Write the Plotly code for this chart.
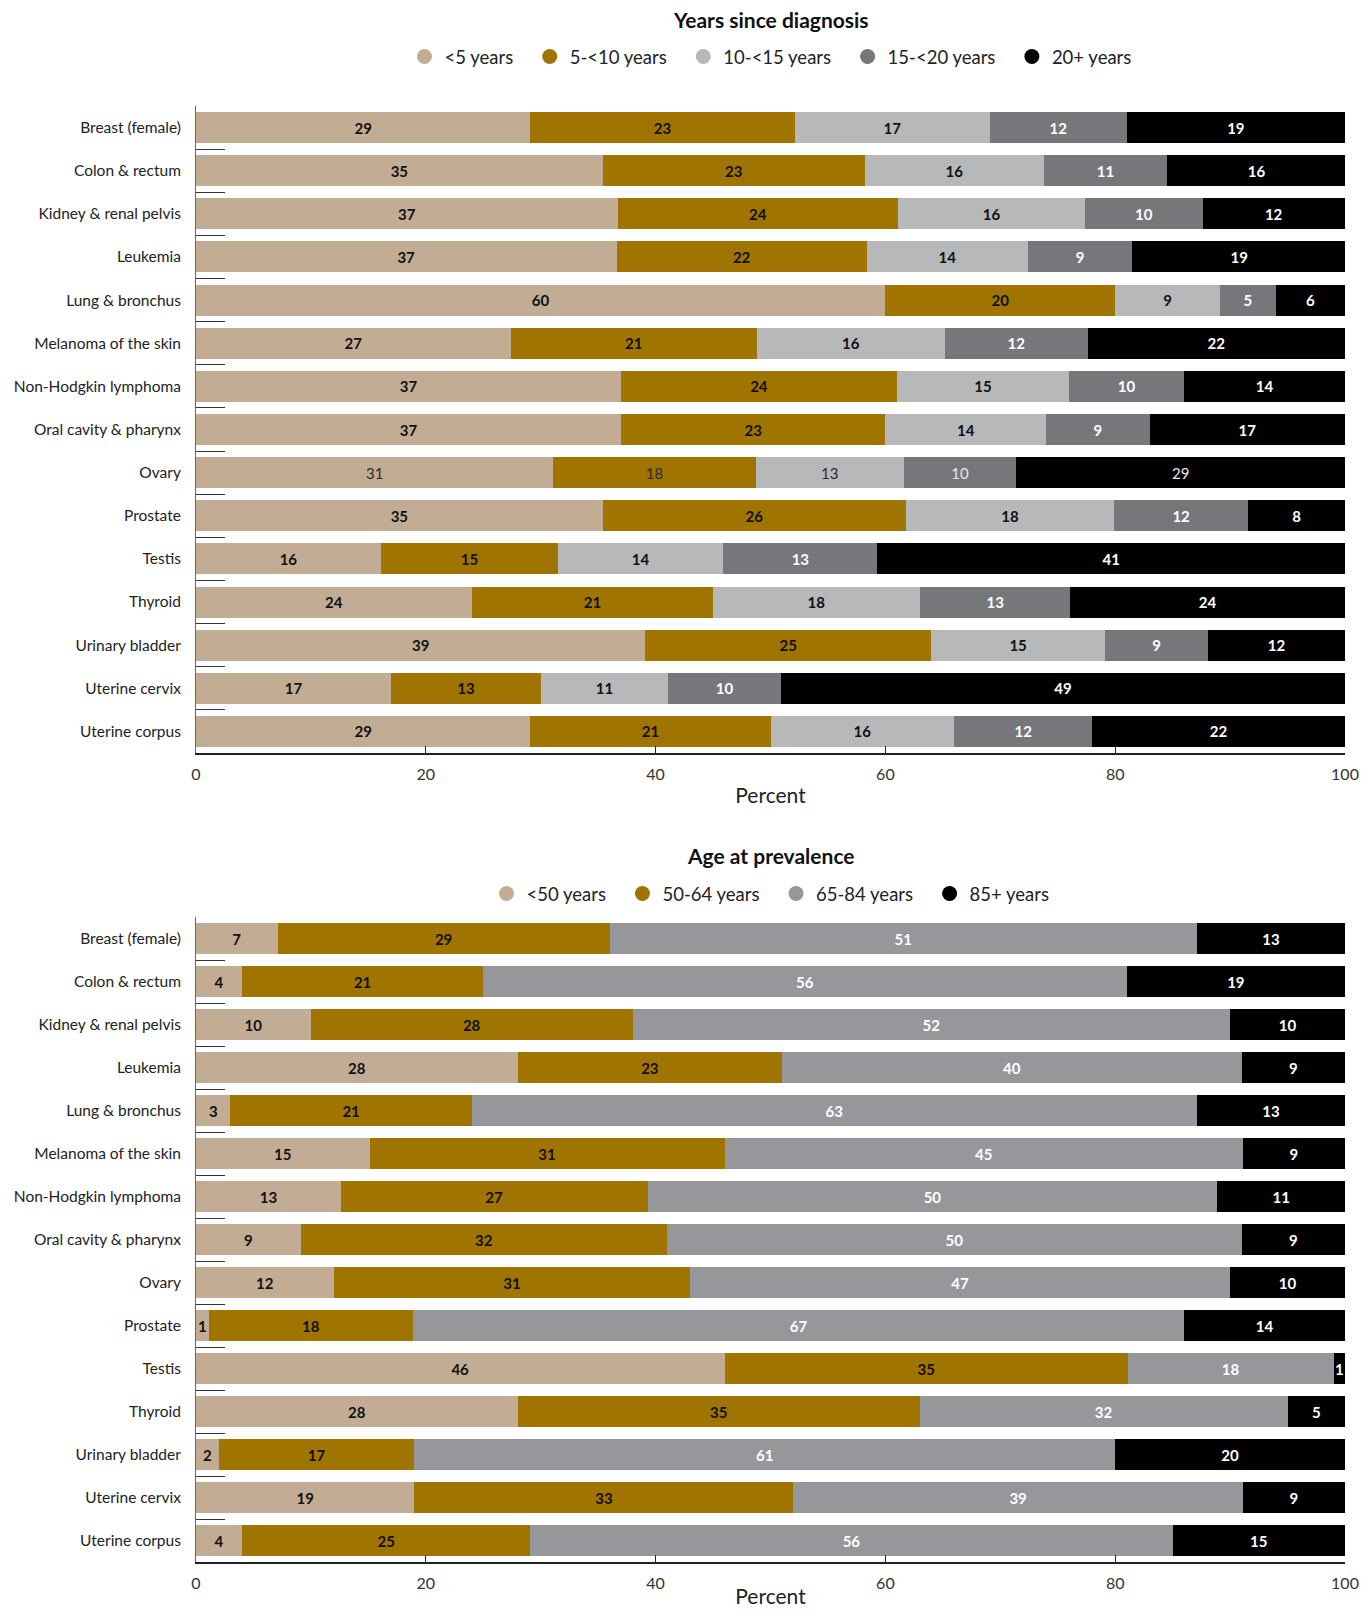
import plotly.graph_objects as go

cancers = ["Breast (female)", "Colon & rectum", "Kidney & renal pelvis", "Leukemia",
           "Lung & bronchus", "Melanoma of the skin", "Non-Hodgkin lymphoma",
           "Oral cavity & pharynx", "Ovary", "Prostate", "Testis", "Thyroid",
           "Urinary bladder", "Uterine cervix", "Uterine corpus"]

# Panel 1: Years since diagnosis (percent)
years_names = ["<5 years", "5-<10 years", "10-<15 years", "15-<20 years", "20+ years"]
yrs_lt5 = [29.1, 35.4, 36.7, 36.6, 60.0, 27.4, 37.0, 37.0, 31.1, 35.4, 16.1, 24.0, 39.1, 17.0, 29.1]
yrs_5_10 = [23.0, 22.8, 24.4, 21.8, 20.0, 21.4, 24.0, 23.0, 17.6, 26.4, 15.4, 21.0, 24.9, 13.0, 20.9]
yrs_10_15 = [17.0, 15.6, 16.3, 14.0, 9.1, 16.4, 15.0, 14.0, 12.9, 18.1, 14.4, 18.0, 15.1, 11.1, 16.0]
yrs_15_20 = [11.9, 10.7, 10.2, 9.1, 4.9, 12.4, 10.0, 9.0, 9.8, 11.7, 13.4, 13.1, 9.0, 9.8, 12.0]
yrs_20p = [19.0, 15.6, 12.4, 18.6, 6.0, 22.4, 14.0, 17.0, 28.6, 8.4, 40.7, 23.9, 11.9, 49.1, 22.0]

# Panel 2: Age at prevalence (percent)
age_names = ["<50 years", "50-64 years", "65-84 years", "85+ years"]
age_lt50 = [7.1, 4.0, 10.0, 28.0, 3.0, 15.1, 12.6, 9.1, 12.0, 1.1, 46.0, 28.0, 2.0, 19.0, 4.0]
age_50_64 = [28.9, 21.0, 28.0, 23.0, 21.0, 30.9, 26.7, 31.9, 31.0, 17.8, 35.1, 35.0, 17.0, 33.0, 25.1]
age_65_84 = [51.1, 56.0, 52.0, 40.0, 63.1, 45.1, 49.6, 50.0, 47.0, 67.1, 17.9, 32.0, 61.0, 39.1, 55.9]
age_85p = [12.9, 19.0, 10.0, 9.0, 12.9, 8.9, 11.1, 9.0, 10.0, 14.0, 1.0, 5.0, 20.0, 8.9, 15.0]

x_ticks = [0, 20, 40, 60, 80, 100]

BEIGE, GOLD, LGRAY, DGRAY, BLACK = "#C2AD94", "#A07400", "#B7B8BA", "#76777A", "#000000"
MGRAY = "#96979A"

TICKF = "Lato, Roboto, sans-serif"
SANS = "Lato, Noto Sans, sans-serif"
# page body has an 8px margin; figure coords = page coords - 8
W, H = 1354, 1600

def py(px):
    return 1 - px / H

def leg_name(n, last):
    return n if last else n + "\u2002\u2009"

fig = go.Figure()

top_series = [yrs_lt5, yrs_5_10, yrs_10_15, yrs_15_20, yrs_20p]
top_colors = [BEIGE, GOLD, LGRAY, DGRAY, BLACK]
top_txt = ["#111111", "#111111", "#111111", "#ffffff", "#ffffff"]
for i, (name, vals, col, tc) in enumerate(zip(years_names, top_series, top_colors, top_txt)):
    tmpl = ["%{x:.0f}" if c == "Ovary" else "<b>%{x:.0f}</b>" for c in cancers]
    tcols = [("#2a2a2a" if tc != "#ffffff" else "#e8e8e8") if c == "Ovary" else tc for c in cancers]
    fig.add_trace(go.Bar(
        y=cancers, x=vals, orientation="h", name=name, marker=dict(color=col, line=dict(width=0)),
        texttemplate=tmpl, textposition="inside", insidetextanchor="middle", textangle=0,
        textfont=dict(family=TICKF, size=15, color=tcols), showlegend=False,
        hoverinfo="skip", xaxis="x", yaxis="y"))
    fig.add_trace(go.Scatter(x=[None], y=[None], mode="markers",
                             name=leg_name(name, i == len(years_names) - 1),
                             marker=dict(symbol="circle", size=15, color=col),
                             legend="legend", xaxis="x", yaxis="y", hoverinfo="skip"))

bot_series = [age_lt50, age_50_64, age_65_84, age_85p]
bot_colors = [BEIGE, GOLD, MGRAY, BLACK]
bot_txt = ["#111111", "#111111", "#ffffff", "#ffffff"]
for i, (name, vals, col, tc) in enumerate(zip(age_names, bot_series, bot_colors, bot_txt)):
    fig.add_trace(go.Bar(
        y=cancers, x=vals, orientation="h", name=name, marker=dict(color=col, line=dict(width=0)),
        texttemplate="<b>%{x:.0f}</b>", textposition="inside", insidetextanchor="middle", textangle=0,
        textfont=dict(family=TICKF, size=15, color=tc), showlegend=False,
        hoverinfo="skip", xaxis="x2", yaxis="y2"))
    fig.add_trace(go.Scatter(x=[None], y=[None], mode="markers",
                             name=leg_name(name, i == len(age_names) - 1),
                             marker=dict(symbol="circle", size=15, color=col),
                             legend="legend2", xaxis="x2", yaxis="y2", hoverinfo="skip"))

def xax(anchor):
    return dict(anchor=anchor, domain=[0, 1], range=[0, 100], tickvals=x_ticks,
                ticks="inside", ticklen=7, tickcolor="#222", showline=True, linecolor="#222",
                linewidth=1.5, showgrid=False, zeroline=False,
                tickfont=dict(family=TICKF, size=16, color="#333"), ticklabelstandoff=6,
                title=dict(text="Percent", font=dict(family=SANS, size=21, color="#222"), standoff=6),
                automargin=False, fixedrange=True)

def yax(anchor, domain):
    return dict(anchor=anchor, domain=domain, type="category", categoryorder="array",
                categoryarray=cancers, autorange="reversed", ticks="inside", tickson="boundaries",
                ticklen=29, tickcolor="#333", tickwidth=1.3, showline=True, linecolor="#666",
                linewidth=1, showgrid=False, zeroline=False,
                tickfont=dict(family=TICKF, size=15.5, color="#222"), ticklabelstandoff=11,
                automargin=False, fixedrange=True)

leg = dict(orientation="h", xanchor="center", x=0.5, yanchor="middle", traceorder="normal",
           font=dict(family=SANS, size=18.5, color="#222"), bgcolor="rgba(0,0,0,0)",
           itemclick=False, itemdoubleclick=False)

fig.update_layout(
    width=W, height=H, margin=dict(l=188, r=W - 1337, t=0, b=0),
    paper_bgcolor="white", plot_bgcolor="white",
    barmode="stack", bargap=0.28,
    uniformtext=dict(minsize=15, mode="show"),
    xaxis=xax("y"), yaxis=yax("x", [py(745), py(98)]),
    xaxis2=xax("y2"), yaxis2=yax("x2", [py(1554), py(909)]),
    legend=dict(leg, y=py(49)),
    legend2=dict(leg, y=py(886)),
    annotations=[
        dict(text="<b>Years since diagnosis</b>", x=0.5, xref="paper", y=py(12), yref="paper",
             xanchor="center", yanchor="middle", showarrow=False,
             font=dict(family=SANS, size=21, color="#111")),
        dict(text="<b>Age at prevalence</b>", x=0.5, xref="paper", y=py(847), yref="paper",
             xanchor="center", yanchor="middle", showarrow=False,
             font=dict(family=SANS, size=21, color="#111")),
    ],
)

fig.write_html("out.html")
